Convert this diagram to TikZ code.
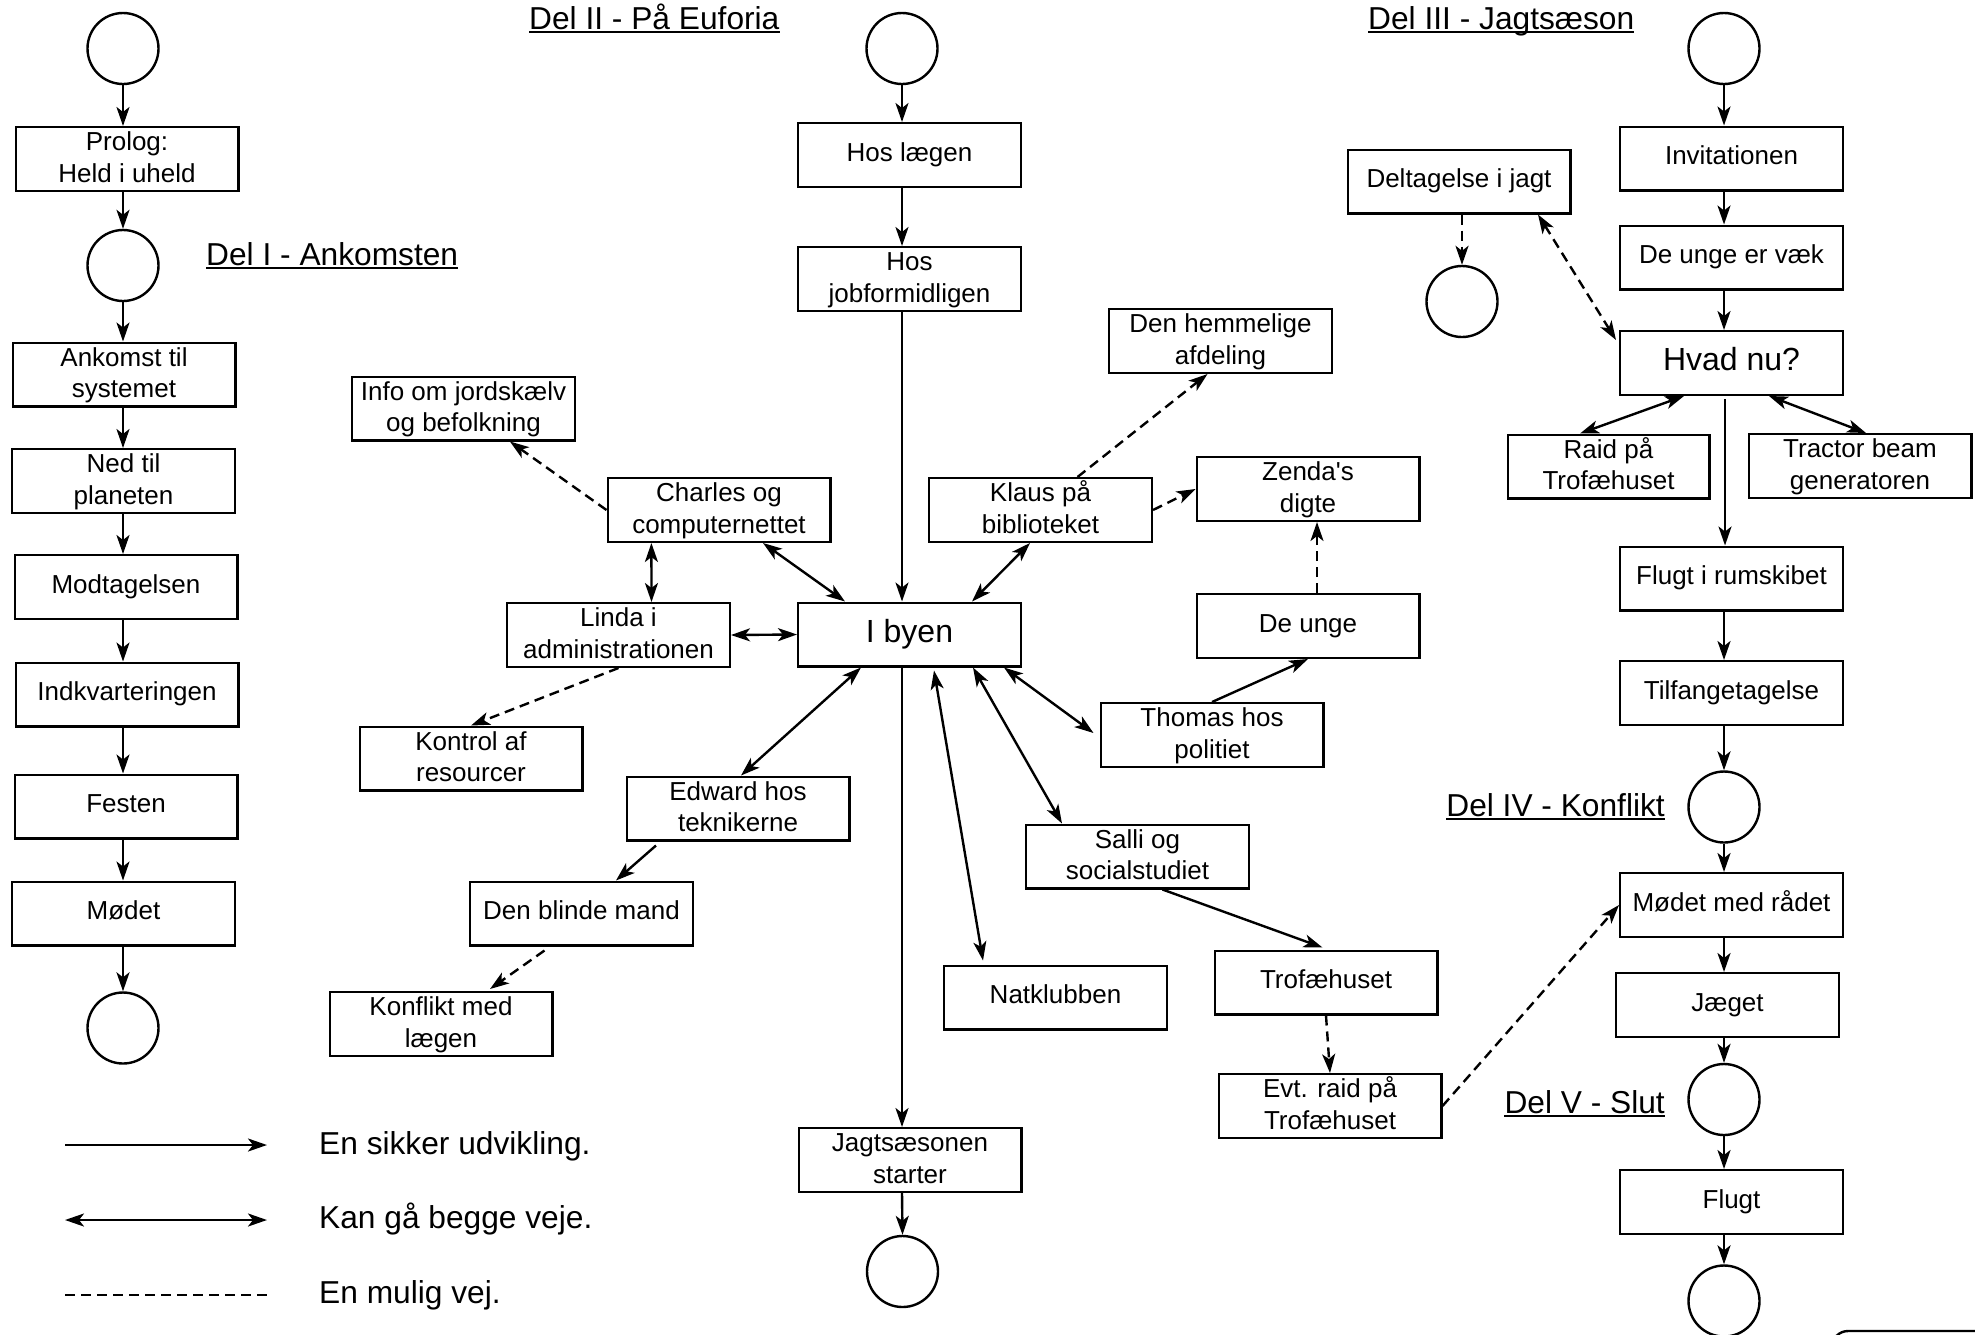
\documentclass[tikz,border=0pt]{standalone}
\usepackage{fontspec}
\setmainfont{Liberation Sans}
\usetikzlibrary{arrows.meta,calc}
\tikzset{Ah/.tip={Stealth[length=19pt,width=13pt,inset=5pt]}}
\newcommand\twol[2]{\raisebox{-1pt}[\height][\depth]{\begin{tabular}{@{}c@{}}#1\\#2\end{tabular}}}
\begin{document}
\begin{tikzpicture}[x=1pt,y=-1pt,
  lw/.style={line width=2.4pt},
  box/.style={draw,lw,rectangle,minimum width=222.6pt,minimum height=63.6pt,inner sep=0pt,align=center,
     font=\fontsize{26}{31.5}\selectfont, execute at begin node=\strut, execute at end node=\strut},
  bigbox/.style={box,font=\fontsize{32}{38.5}\selectfont},
  ring/.style={draw,lw,circle,minimum size=71pt,inner sep=0pt},
  hdr/.style={inner sep=0pt,font=\fontsize{31.7}{38}\selectfont},
  ul/.style={line width=2pt},
  sure/.style={lw,-Ah},
  both/.style={lw,Ah-Ah},
  maybe/.style={lw,dash pattern=on 10pt off 6pt,-Ah},
  maybeboth/.style={lw,dash pattern=on 10pt off 6pt,Ah-Ah}
]
\useasboundingbox (0,0) rectangle (1975,1334);
\begin{scope}
\clip (0,0) rectangle (1975,1334);
\fill[white] (0,0) rectangle (1975,1334);

% ---------- Column 1 ----------
\node[ring] (c1a) at (123,48.5) {};
\node[box] (prolog) at (127,159) {\twol{Prolog:}{Held i uheld}};
\node[ring] (c1b) at (123,265.5) {};
\node[box] (ankomst) at (124,374.5) {\twol{Ankomst til}{systemet}};
\node[box] (ned) at (123.5,481) {\twol{Ned til}{planeten}};
\node[box] (modtag) at (126,587) {Modtagelsen};
\node[box] (indkv) at (127,694.5) {Indkvarteringen};
\node[box] (festen) at (126,806.5) {Festen};
\node[box] (modet) at (123.5,913.5) {Mødet};
\node[ring] (c1c) at (123,1028) {};

\draw[sure] (c1a.south) -- (c1a |- prolog.north);
\draw[sure] (c1a |- prolog.south) -- (c1b.north);
\draw[sure] (c1b.south) -- (c1b |- ankomst.north);
\draw[sure] (c1b |- ankomst.south) -- (c1b |- ned.north);
\draw[sure] (c1b |- ned.south) -- (c1b |- modtag.north);
\draw[sure] (c1b |- modtag.south) -- (c1b |- indkv.north);
\draw[sure] (c1b |- indkv.south) -- (c1b |- festen.north);
\draw[sure] (c1b |- festen.south) -- (c1b |- modet.north);
\draw[sure] (c1b |- modet.south) -- (c1c.north);

% ---------- Headers ----------
\node[hdr,anchor=base west] (h1) at (206,265) {Del I - Ankomsten};
\node[hdr,anchor=base west] (h2) at (529,29) {Del II - På Euforia};
\node[hdr,anchor=base west] (h3) at (1368,29) {Del III - Jagtsæson};
\node[hdr,anchor=base east] (h4) at (1665,816) {Del IV - Konflikt};
\node[hdr,anchor=base east] (h5) at (1665,1113) {Del V - Slut};
\foreach \h in {h1,h2,h3,h4,h5}{
  \draw[ul] ($(\h.base west)+(0,3)$) -- ($(\h.base east)+(0,3)$);
}

% ---------- Column 2 ----------
\node[ring] (c2a) at (902,48.5) {};
\node[box] (laegen) at (909.5,155) {Hos lægen};
\node[box] (job) at (909.5,279) {\twol{Hos}{jobformidligen}};
\node[bigbox] (ibyen) at (909.5,634.5) {I byen};
\node[box] (jagt) at (910,1160) {\twol{Jagtsæsonen}{starter}};
\node[ring] (c2b) at (902.5,1271.5) {};

\draw[sure] (c2a.south) -- (c2a |- laegen.north);
\draw[sure] (c2a |- laegen.south) -- (c2a |- job.north);
\draw[sure] (c2a |- job.south) -- (c2a |- ibyen.north);
\draw[sure] (c2a |- ibyen.south) -- (c2a |- jagt.north);
\draw[sure] (c2a |- jagt.south) -- (c2b.north);

% ---------- Middle network ----------
\node[box] (info) at (463.5,408.5) {\twol{Info om jordskælv}{og befolkning}};
\node[box] (charles) at (719,510) {\twol{Charles og}{computernettet}};
\node[box] (linda) at (618.5,635) {\twol{Linda i}{administrationen}};
\node[box] (kontrol) at (471,758.5) {\twol{Kontrol af}{resourcer}};
\node[box] (edward) at (738,808.5) {\twol{Edward hos}{teknikerne}};
\node[box] (blinde) at (581.5,913.5) {Den blinde mand};
\node[box] (konflikt) at (441,1024) {\twol{Konflikt med}{lægen}};
\node[box] (natklub) at (1055.5,997.5) {Natklubben};
\node[box] (salli) at (1137.5,856.5) {\twol{Salli og}{socialstudiet}};
\node[box] (trofae) at (1326,982.5) {Trofæhuset};
\node[box] (evt) at (1330,1106) {\twol{Evt. raid på}{Trofæhuset}};
\node[box] (thomas) at (1212,735) {\twol{Thomas hos}{politiet}};
\node[box] (deunge) at (1308,626) {De unge};
\node[box] (zenda) at (1308,489) {\twol{Zenda\textquotesingle s}{digte}};
\node[box] (klaus) at (1040.5,510) {\twol{Klaus på}{biblioteket}};
\node[box] (hemmelig) at (1220.5,341) {\twol{Den hemmelige}{afdeling}};

\draw[both] ($(charles.south)+(-67.6,0)$) -- ($(linda.north)+(33,0)$);
\draw[both] ($(charles.south)+(44,0)$) -- ($(ibyen.north)+(-64.5,0)$);
\draw[both] (linda.east) -- (ibyen.west);
\draw[both] ($(klaus.south)+(-10.5,0)$) -- ($(ibyen.north)+(62.5,0)$);
\draw[both] ($(ibyen.south)+(-48.5,0)$) -- ($(edward.north)+(3,0)$);
\draw[both] ($(ibyen.south)+(24.5,3)$) -- ($(natklub.north)+(-72.5,-4)$);
\draw[both] ($(ibyen.south)+(63.5,0)$) -- ($(salli.north)+(-75.5,0)$);
\draw[both] ($(ibyen.south)+(94.5,0)$) -- ($(thomas.west)+(-6,-2)$);
\draw[sure] (thomas.north) -- (deunge.south);
\draw[maybe] ($(deunge.north)+(9,0)$) -- ($(zenda.south)+(9,0)$);
\draw[maybe] (klaus.east) -- (zenda.west);
\draw[maybe] ($(klaus.north)+(37,0)$) -- ($(hemmelig.south)+(-13,0)$);
\draw[maybe] (charles.west) -- (info);
\draw[maybe] (linda.south) -- (kontrol.north);
\draw[sure] ($(edward.south)+(-82,4)$) -- ($(blinde.north)+(34.5,0)$);
\draw[maybe] ($(blinde.south)+(-37,4)$) -- ($(konflikt.north)+(49,-2)$);
\draw[sure] ($(salli.south)+(25,0)$) -- ($(trofae.north)+(-3.5,-2)$);
\draw[maybe] (trofae.south) -- (evt.north);

% ---------- Column 3 ----------
\node[ring] (c3a) at (1724,48.5) {};
\node[box] (invit) at (1731.5,158.5) {Invitationen};
\node[box] (vaek) at (1731.5,257.5) {De unge er væk};
\node[bigbox] (hvadnu) at (1731.5,363) {Hvad nu?};
\node[box] (deltag) at (1459,181.5) {Deltagelse i jagt};
\node[ring] (c3d) at (1462,301.5) {};
\node[box,minimum width=201.6pt] (raid) at (1608.5,466.5) {\twol{Raid på}{Trofæhuset}};
\node[box] (tractor) at (1860,466) {\twol{Tractor beam}{generatoren}};
\node[box] (flugtrum) at (1731.5,578.5) {Flugt i rumskibet};
\node[box] (tilfange) at (1731.5,693) {Tilfangetagelse};
\node[ring] (c3b) at (1724,807) {};
\node[box] (modetraad) at (1731.5,905) {Mødet med rådet};
\node[box] (jaeget) at (1727.5,1005) {Jæget};
\node[ring] (c3c) at (1724,1099.5) {};
\node[box] (flugt) at (1731.5,1202) {Flugt};
\node[ring] (c3e) at (1724,1301) {};

\draw[sure] (c3a.south) -- (c3a |- invit.north);
\draw[sure] (c3a |- invit.south) -- (c3a |- vaek.north);
\draw[sure] (c3a |- vaek.south) -- (c3a |- hvadnu.north);
\draw[sure] ($(c3a |- hvadnu.south)+(1,3)$) -- ($(c3a |- flugtrum.north)+(1,0)$);
\draw[sure] (c3a |- flugtrum.south) -- (c3a |- tilfange.north);
\draw[sure] (c3a |- tilfange.south) -- (c3b.north);
\draw[sure] (c3b.south) -- (c3b |- modetraad.north);
\draw[sure] (c3b |- modetraad.south) -- (c3b |- jaeget.north);
\draw[sure] (c3b |- jaeget.south) -- (c3c.north);
\draw[sure] (c3c.south) -- (c3c |- flugt.north);
\draw[sure] (c3c |- flugt.south) -- (c3e.north);
\draw[both] ($(hvadnu.south)+(-47.5,0)$) -- ($(raid.north)+(-28.5,0)$);
\draw[both] ($(hvadnu.south)+(37.5,0)$) -- ($(tractor.north)+(6,0)$);
\draw[maybe] (c3d |- deltag.south) -- (c3d.north);
\draw[maybeboth] ($(deltag.south)+(79,0)$) -- ($(hvadnu.north west)+(-3,10)$);
\draw[maybe] (evt.east) -- (modetraad.west);

% partial rounded shape at the bottom edge
\draw[lw,rounded corners=16pt] (1832,1420) -- (1832,1331) -- (2010,1331) -- (2010,1420);

% ---------- Legend ----------
\coordinate (la1) at (65,1145);  \coordinate (lb1) at (267,1145);
\coordinate (la2) at (65,1220);  \coordinate (lb2) at (267,1220);
\coordinate (la3) at (65,1295);  \coordinate (lb3) at (267,1295);
\draw[sure] (la1) -- (lb1);
\draw[both] (la2) -- (lb2);
\draw[lw,dash pattern=on 10pt off 6pt] (la3) -- (lb3);
\node[hdr,anchor=base west] (t1) at (319,1154) {En sikker udvikling.};
\node[hdr,anchor=base west] (t2) at (319,1228) {Kan gå begge veje.};
\node[hdr,anchor=base west] (t3) at (319,1303) {En mulig vej.};
\end{scope}
\end{tikzpicture}
\end{document}
